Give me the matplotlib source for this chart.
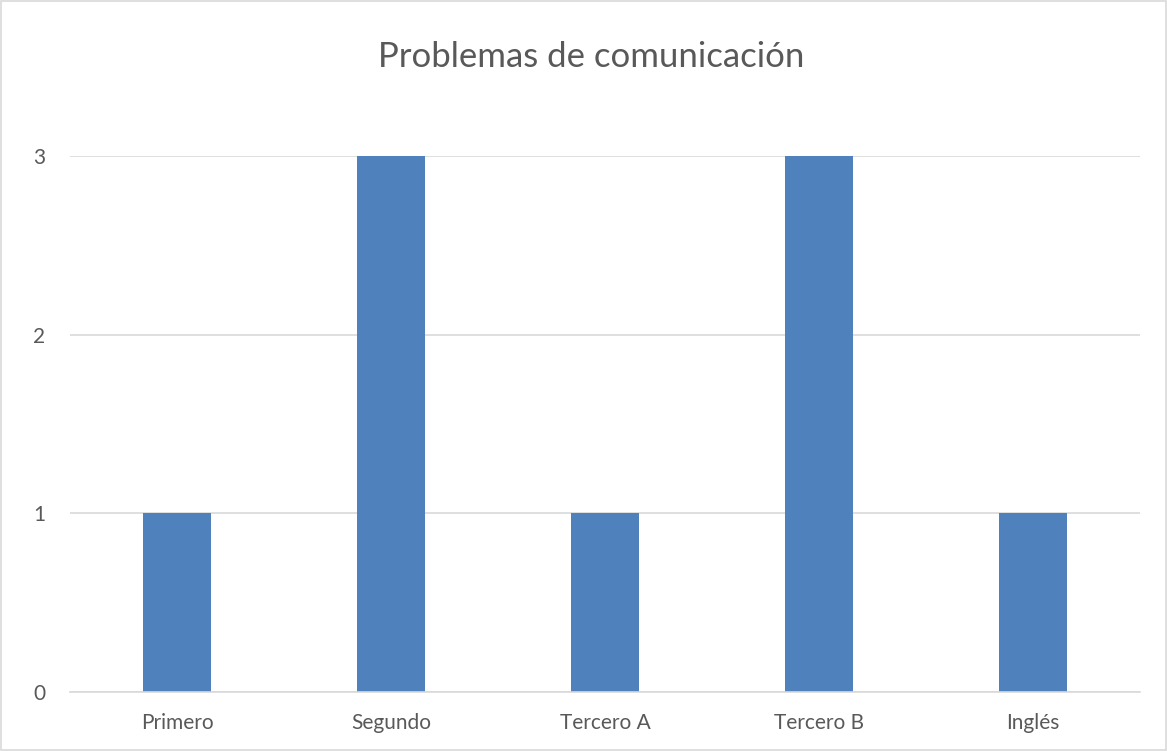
import matplotlib
matplotlib.use("Agg")
import matplotlib.pyplot as plt
from matplotlib.patches import Rectangle

categories = ["Primero", "Segundo", "Tercero A", "Tercero B", "Inglés"]
values = [1, 3, 1, 3, 1]
yticks = [0, 1, 2, 3]
title = "Problemas de comunicación"

plt.rcParams['font.family'] = ['Lato', 'DejaVu Sans']

fig = plt.figure(figsize=(11.67, 7.51), dpi=100)
ax = fig.add_axes([0.060, 0.0786, 0.917, 0.7137])

x = range(len(categories))
ax.bar(x, values, width=0.315, color="#4F81BD", zorder=3)
ax.set_xlim(-0.5, len(categories) - 0.5)
ax.set_ylim(0, 3)
ax.set_yticks(yticks)
ax.set_xticks(list(x))
ax.set_xticklabels(categories)
ax.yaxis.grid(True, color="#D9D9D9", linewidth=1.2, zorder=0)
ax.xaxis.grid(False)
for s in ["top", "right", "left"]:
    ax.spines[s].set_visible(False)
ax.spines["bottom"].set_color("#D9D9D9")
ax.spines["bottom"].set_linewidth(1.2)
ax.spines["bottom"].set_zorder(4)
ax.tick_params(axis="both", length=0, labelsize=15, labelcolor="#595959")
ax.tick_params(axis="y", pad=18)
ax.tick_params(axis="x", pad=15)

fig.text(0.5065, 0.924, title, ha="center", va="center", fontsize=25, color="#595959")

fig.patches.append(Rectangle((0.001, 0.001), 0.998, 0.998, transform=fig.transFigure,
                             fill=False, edgecolor="#D9D9D9", linewidth=1.2))

fig.savefig("out.png", dpi=100, facecolor="white")
